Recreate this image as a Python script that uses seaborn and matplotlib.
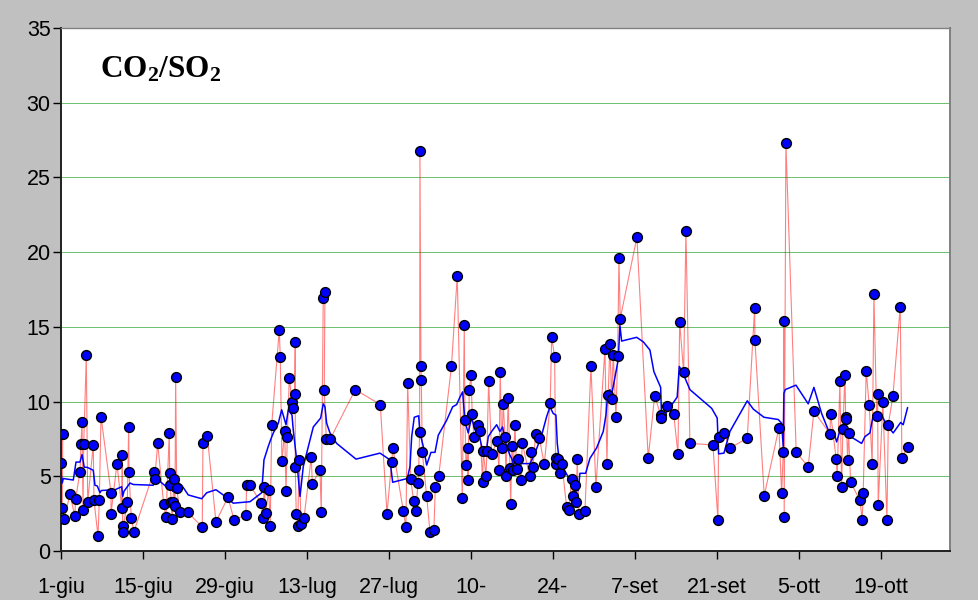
import numpy as np
import pandas as pd
import matplotlib
matplotlib.use("Agg")
import matplotlib.pyplot as plt
import seaborn as sns

# ---- data: days since 1 June, CO2/SO2 ratio ----
days = [0.05, 0.29, 0.22, 0.56, 1.54, 2.34, 2.51, 3.24, 3.41, 3.59, 3.76, 3.88, 4.32, 4.56,
        5.51, 5.63, 6.32, 6.54, 6.83, 8.54, 8.54, 9.56, 10.36, 10.47, 10.53, 10.53, 11.32,
        11.56, 11.61, 12.0, 12.46, 15.83, 16.0, 16.51, 17.53, 17.93, 18.49, 18.56, 18.66,
        18.83, 18.95, 19.12, 19.29, 19.46, 19.58, 19.75, 20.32, 21.63, 24.12, 24.24, 24.98,
        26.46, 28.51, 29.54, 31.54, 31.71, 32.27, 34.2, 34.44, 34.71, 34.95, 35.46, 35.73,
        35.97, 37.27, 37.44, 37.73, 38.19, 38.42, 38.64, 38.98, 39.44, 39.66, 39.9, 40.0,
        40.0, 40.17, 40.41, 40.69, 40.98, 41.49, 42.74, 42.91, 44.22, 44.44, 44.78, 45.07,
        44.95, 45.3, 45.98, 50.25, 54.52, 55.66, 56.46, 56.68, 58.44, 58.9, 59.19, 59.71,
        60.22, 60.61, 60.95, 61.07, 61.24, 61.29, 61.46, 61.52, 61.69, 62.44, 63.0, 63.68,
        63.91, 64.49, 66.67, 67.66, 68.52, 68.86, 68.98, 69.15, 69.49, 69.49, 69.71, 70.0,
        70.22, 70.51, 71.25, 71.54, 72.0, 72.1, 72.56, 72.73, 73.02, 73.53, 74.49, 74.78,
        75.0, 75.24, 75.52, 75.81, 75.98, 76.37, 76.66, 76.78, 77.0, 77.22, 77.51, 77.8,
        78.03, 78.54, 78.76, 80.02, 80.25, 80.59, 81.05, 81.67, 82.52, 83.54, 83.78, 84.29,
        84.46, 84.57, 84.91, 85.2, 85.54, 86.34, 86.73, 87.19, 87.47, 87.76, 87.98, 88.15,
        88.44, 89.47, 90.49, 91.34, 92.88, 93.22, 93.44, 93.73, 94.02, 94.3, 94.76, 95.05,
        95.27, 95.49, 98.34, 100.27, 101.37, 102.39, 102.5, 103.42, 104.61, 105.35, 105.64,
        106.32, 106.71, 107.39, 111.32, 112.17, 112.29, 113.15, 114.27, 117.18, 118.44,
        118.49, 120.08, 122.59, 123.05, 123.32, 123.44, 123.49, 123.78, 125.54, 127.59,
        128.56, 131.29, 131.41, 132.37, 132.54, 133.0, 133.29, 133.51, 133.86, 133.98,
        134.08, 134.32, 134.49, 134.83, 136.41, 136.81, 136.98, 137.49, 138.0, 138.51,
        138.81, 139.27, 139.44, 139.54, 140.34, 141.03, 141.26, 142.06, 143.3, 143.59, 144.56]

ratio = [5.9, 7.85, 2.9, 2.15, 3.8, 2.35, 3.5, 5.3, 7.15, 8.65, 2.75, 7.15, 13.1, 3.3,
         7.1, 3.4, 1.0, 3.4, 9.0, 3.9, 2.5, 5.85, 2.9, 6.4, 1.7, 1.3, 3.3,
         8.3, 5.3, 2.2, 1.3, 5.3, 4.8, 7.2, 3.15, 2.25, 7.9, 5.25, 4.4,
         3.3, 2.15, 3.25, 4.8, 3.0, 11.65, 4.2, 2.6, 2.6, 1.6, 7.2, 7.7,
         1.95, 3.6, 2.1, 2.4, 4.4, 4.4, 3.2, 2.2, 4.3, 2.55, 4.05, 1.7,
         8.4, 14.8, 13.0, 6.0, 8.05, 4.0, 7.6, 11.6, 10.0, 9.6, 10.5, 14.0,
         5.6, 2.5, 1.7, 6.1, 1.8, 2.2, 6.3, 4.5, 5.4, 2.6, 16.95, 17.3,
         10.8, 7.5, 7.5, 10.8, 9.8, 2.5, 5.95, 6.9, 2.7, 1.6, 11.25, 4.8,
         3.35, 2.7, 4.55, 5.4, 7.95, 26.8, 12.35, 11.45, 6.65, 3.65, 1.3, 1.4,
         4.25, 5.0, 12.35, 18.4, 3.55, 15.1, 8.8, 5.75, 6.9, 4.75, 10.75, 11.8,
         9.2, 7.6, 8.4, 8.0, 4.65, 6.7, 5.0, 6.7, 11.35, 6.5, 7.35, 5.4,
         11.95, 6.9, 9.85, 7.6, 5.05, 10.25, 5.55, 3.15, 7.0, 5.45, 8.45, 5.5,
         6.15, 4.75, 7.25, 5.0, 6.6, 5.65, 7.85, 7.55, 5.8, 9.9, 14.3, 13.0,
         5.85, 6.25, 6.15, 5.25, 5.8, 2.95, 2.75, 4.8, 3.7, 4.4, 3.3, 6.15,
         2.5, 2.7, 12.35, 4.3, 13.5, 5.8, 10.45, 13.85, 10.15, 13.15, 8.95, 13.05,
         19.6, 15.55, 21.0, 6.2, 10.4, 9.1, 8.9, 9.7, 9.2, 6.5, 15.3,
         11.95, 21.4, 7.2, 7.1, 2.1, 7.6, 7.9, 6.9, 7.55, 16.25,
         14.1, 3.7, 8.25, 3.85, 6.6, 15.4, 2.3, 27.3, 6.6, 5.65,
         9.35, 7.85, 9.2, 6.15, 5.0, 11.35, 4.3, 8.15, 11.8, 9.0,
         8.85, 6.1, 7.9, 4.6, 3.4, 2.1, 3.9, 12.05, 9.8, 5.85,
         17.2, 9.05, 10.5, 3.1, 9.95, 2.05, 8.45, 10.4, 16.35, 6.25, 6.95]

# ---- moving-average trend (blue line) ----
trend_days = [0.0, 0.22, 0.39, 2.1, 2.56, 3.24, 3.59, 3.98, 4.49, 5.51, 5.8, 6.2, 6.66, 6.88,
              9.22, 10.36, 10.53, 10.76, 11.78, 12.34, 15.76, 16.05, 16.9, 18.32, 18.73, 19.07,
              19.75, 20.61, 21.73, 24.02, 24.88, 26.46, 27.71, 29.42, 32.27, 34.27, 34.66,
              35.39, 35.8, 36.25, 37.1, 37.68, 38.42, 38.81, 39.44, 39.66, 40.24, 40.81, 41.37,
              41.95, 43.08, 44.34, 44.78, 45.07, 45.36, 45.93, 47.07, 50.37, 54.47, 56.17,
              56.63, 59.13, 59.59, 59.88, 60.32, 61.07, 61.29, 61.86, 62.44, 63.17, 63.86,
              64.42, 65.85, 66.88, 67.56, 68.12, 68.58, 68.98, 69.54, 69.83, 70.12, 70.69,
              71.25, 71.83, 72.1, 72.68, 72.96, 73.53, 74.39, 74.95, 75.41, 75.81, 76.1,
              76.66, 76.95, 77.22, 78.37, 80.07, 80.64, 81.22, 82.07, 82.93, 83.49, 84.05,
              84.51, 84.74, 85.2, 85.76, 86.9, 87.76, 88.32, 88.61, 89.58, 90.32, 91.46,
              92.59, 93.05, 93.27, 93.73, 94.02, 94.59, 95.15, 95.44, 95.73, 98.29, 99.42,
              100.56, 101.24, 102.39, 102.56, 103.42, 105.22, 105.57, 105.98, 107.39, 111.1,
              112.05, 112.29, 113.2, 114.22, 117.18, 118.2, 120.03, 122.47, 123.05, 123.32,
              123.44, 123.66, 125.49, 127.59, 128.56, 129.88, 131.01, 131.41, 131.86, 132.44,
              132.89, 133.57, 134.42, 135.27, 136.71, 137.27, 138.12, 138.69, 139.37, 140.12,
              140.97, 142.1, 143.37, 143.81, 144.56]
trend = [5.25, 4.55, 4.85, 4.75, 5.95, 5.95, 6.45, 5.6, 5.6, 5.4, 4.4, 4.35, 3.9, 4.05,
         4.1, 4.3, 3.65, 4.0, 4.55, 4.45, 4.4, 4.75, 4.65, 4.2, 4.4, 4.0,
         4.65, 4.4, 3.75, 3.5, 3.9, 4.1, 3.75, 3.2, 3.3, 3.9, 6.1,
         7.0, 7.45, 7.9, 8.55, 9.45, 8.45, 9.45, 9.1, 8.1, 6.1, 3.65, 5.65,
         6.55, 8.3, 8.9, 9.85, 9.65, 8.55, 7.9, 7.2, 6.15, 6.55, 6.1,
         4.6, 4.85, 5.65, 7.65, 8.95, 9.05, 7.9, 7.0, 5.75, 6.6, 6.6,
         7.75, 8.75, 9.65, 9.8, 10.3, 10.65, 8.65, 7.9, 8.45, 8.9, 8.1,
         8.05, 7.0, 6.85, 6.85, 7.65, 8.0, 8.45, 8.0, 8.3, 7.45, 7.0,
         6.4, 6.2, 5.85, 5.85, 5.85, 6.3, 6.85, 7.75, 9.0, 9.65, 9.2,
         9.1, 7.2, 5.65, 5.55, 4.75, 4.0, 4.05, 5.2, 5.2, 6.2, 6.9,
         8.0, 9.1, 10.1, 10.8, 10.45, 11.65, 12.8, 15.1, 14.05, 14.3, 14.0,
         13.45, 12.0, 10.95, 8.9, 9.3, 10.3, 12.35, 12.1, 10.8, 9.55,
         8.9, 6.5, 6.55, 8.0, 10.05, 9.5, 8.95, 8.8, 8.55, 7.0,
         10.55, 10.8, 11.1, 9.85, 10.95, 9.2, 8.1, 7.5, 8.1, 7.3,
         7.9, 7.9, 7.65, 7.55, 7.2, 7.65, 7.9, 9.1, 8.75, 9.1,
         8.45, 7.9, 8.6, 8.45, 9.6]

tick_days = [0, 14, 28, 42, 56, 70, 84, 98, 112, 126, 140]
tick_labels = ["1-giu", "15-giu", "29-giu", "13-lug", "27-lug", "10-", "24-",
               "7-set", "21-set", "5-ott", "19-ott"]
y_ticks = [0, 5, 10, 15, 20, 25, 30, 35]

obs = pd.DataFrame({"day": days, "ratio": ratio})
mav = pd.DataFrame({"day": trend_days, "ratio": trend})

sns.set_theme(style="white")
plt.rcParams["font.family"] = ["Liberation Sans", "DejaVu Sans"]
plt.rcParams["mathtext.fontset"] = "custom"
plt.rcParams["mathtext.rm"] = "Liberation Serif:bold"
plt.rcParams["mathtext.it"] = "Liberation Serif:bold"
plt.rcParams["mathtext.bf"] = "Liberation Serif:bold"

fig = plt.figure(figsize=(9.79, 6.0), dpi=100, facecolor="#c0c0c0")
ax = fig.add_axes([61 / 979, 1 - 551 / 600, (950 - 61) / 979, (551 - 28) / 600])
ax.set_facecolor("white")

for yv in y_ticks[1:-1]:
    ax.axhline(yv, color="#6cc06c", lw=0.7, zorder=1)

sns.lineplot(data=obs, x="day", y="ratio", sort=False, estimator=None, ax=ax,
             color="#ff0000", lw=0.8, alpha=0.5, zorder=2)
sns.lineplot(data=mav, x="day", y="ratio", sort=False, estimator=None, ax=ax,
             color="#0000ff", lw=1.1, zorder=3)
sns.scatterplot(data=obs, x="day", y="ratio", ax=ax, s=50, color="#0000ff",
                edgecolor="black", linewidth=1.0, zorder=4)

ax.set_xlim(0, 151.8)
ax.set_ylim(0, 35)
ax.set_xticks(tick_days)
ax.set_xticklabels(tick_labels)
ax.set_yticks(y_ticks)
ax.set_xlabel("")
ax.set_ylabel("")
ax.tick_params(axis="both", which="major", direction="out", length=5.5, width=1,
               color="black", labelcolor="black", labelsize=15.5,
               left=True, bottom=True)
ax.tick_params(axis="x", pad=13)
ax.tick_params(axis="y", pad=2)

ax.spines["left"].set_color("#202020")
ax.spines["left"].set_linewidth(1.4)
ax.spines["bottom"].set_color("#202020")
ax.spines["bottom"].set_linewidth(1.4)
ax.spines["top"].set_color("#808080")
ax.spines["top"].set_linewidth(1.0)
ax.spines["right"].set_color("#808080")
ax.spines["right"].set_linewidth(1.4)

fig.text(100 / 979, 1 - 77 / 600, r"$\mathrm{CO_2/SO_2}$", fontsize=22.5,
         color="black", ha="left", va="baseline")

fig.savefig("out.png", dpi=100, facecolor=fig.get_facecolor())
